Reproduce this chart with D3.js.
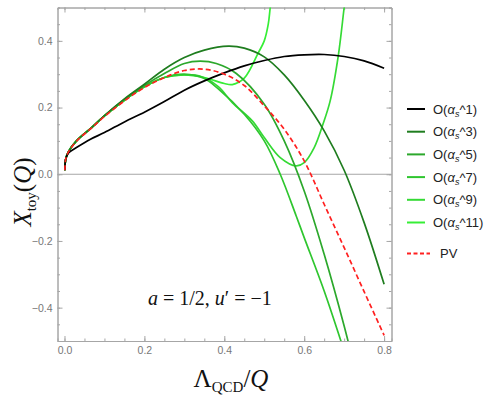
<!DOCTYPE html>
<html>
<head>
<meta charset="utf-8">
<script src="https://cdn.jsdelivr.net/npm/d3@7"></script>
<style>
  body { margin: 0; background: #fff; }
  svg { display: block; }
</style>
</head>
<body>
<div id="chart"></div>
<script>
// series values (x = Lambda_QCD/Q)
var o1X = [0.001, 0.003, 0.01, 0.03, 0.065, 0.1, 0.15, 0.2, 0.25, 0.3, 0.35, 0.4, 0.45, 0.5, 0.55, 0.6, 0.65, 0.7, 0.75, 0.8];
var o1Y = [0.012, 0.045, 0.064, 0.08, 0.105, 0.125, 0.157, 0.186, 0.218, 0.252, 0.28, 0.304, 0.325, 0.341, 0.353, 0.358, 0.359, 0.353, 0.34, 0.318];

var o3X = [0.001, 0.003, 0.01, 0.03, 0.065, 0.1, 0.15, 0.2, 0.25, 0.3, 0.35, 0.41, 0.45, 0.5, 0.55, 0.6, 0.65, 0.7, 0.75, 0.8];
var o3Y = [0.012, 0.045, 0.068, 0.1, 0.137, 0.176, 0.226, 0.27, 0.315, 0.35, 0.372, 0.384, 0.378, 0.352, 0.298, 0.222, 0.13, 0.012, -0.145, -0.33];

var o5X = [0.001, 0.003, 0.01, 0.03, 0.065, 0.1, 0.15, 0.2, 0.25, 0.3, 0.34, 0.38, 0.43, 0.5, 0.55, 0.6, 0.65, 0.7, 0.72];
var o5Y = [0.012, 0.045, 0.068, 0.1, 0.137, 0.175, 0.224, 0.266, 0.302, 0.332, 0.339, 0.332, 0.302, 0.21, 0.1, -0.05, -0.24, -0.455, -0.55];

var o7X = [0.001, 0.003, 0.01, 0.03, 0.065, 0.1, 0.15, 0.2, 0.25, 0.3, 0.35, 0.385, 0.45, 0.5, 0.54, 0.58, 0.6, 0.65, 0.7];
var o7Y = [0.012, 0.045, 0.068, 0.1, 0.137, 0.175, 0.222, 0.262, 0.29, 0.3, 0.287, 0.256, 0.18, 0.1, 0.0, -0.125, -0.19, -0.35, -0.53];

var o9X = [0.001, 0.003, 0.01, 0.03, 0.065, 0.1, 0.15, 0.2, 0.25, 0.3, 0.34, 0.385, 0.42, 0.47, 0.5, 0.54, 0.58, 0.6, 0.625, 0.6475, 0.665, 0.685, 0.7, 0.71];
var o9Y = [0.012, 0.045, 0.068, 0.1, 0.137, 0.175, 0.222, 0.262, 0.29, 0.298, 0.294, 0.263, 0.215, 0.16, 0.11, 0.05, 0.025, 0.035, 0.08, 0.152, 0.22, 0.353, 0.5, 0.6];

var o11X = [0.001, 0.003, 0.01, 0.03, 0.065, 0.1, 0.15, 0.2, 0.25, 0.3, 0.35, 0.4, 0.42, 0.45, 0.485, 0.5, 0.51, 0.515, 0.522];
var o11Y = [0.012, 0.045, 0.068, 0.1, 0.137, 0.175, 0.222, 0.262, 0.29, 0.298, 0.29, 0.272, 0.269, 0.288, 0.364, 0.4, 0.45, 0.5, 0.56];

var pvX = [0.001, 0.003, 0.01, 0.03, 0.065, 0.1, 0.15, 0.2, 0.25, 0.3, 0.35, 0.4, 0.45, 0.5, 0.55, 0.6, 0.65, 0.7, 0.75, 0.8];
var pvY = [0.012, 0.045, 0.067, 0.099, 0.136, 0.173, 0.22, 0.26, 0.29, 0.311, 0.315, 0.3, 0.266, 0.205, 0.135, 0.04, -0.09, -0.22, -0.352, -0.483];

var seriesOrders = ["1", "3", "5", "7", "9", "11"];
var seriesColors = ["#000000", "#1f7d1f", "#2ca82c", "#2fc62f", "#35da35", "#36ee36"];
var xTickLabels = [0, 0.2, 0.4, 0.6, 0.8];
var yTickLabels = [-0.4, -0.2, 0, 0.2, 0.4];

var svgWidth = 491, svgHeight = 395;
var plot = {left: 57.5, right: 391.5, top: 7.5, bottom: 341};

var svg = d3.select("#chart").append("svg")
  .attr("width", svgWidth)
  .attr("height", svgHeight)
  .style("font-family", "'Liberation Sans', Arial, sans-serif");

var x = d3.scaleLinear().domain([-0.0175, 0.8185]).range([plot.left, plot.right]);
var y = d3.scaleLinear().domain([-0.5, 0.5]).range([plot.bottom, plot.top]);

var minorX = d3.range(0, 0.8001, 0.05);
var minorY = d3.range(-0.5, 0.5001, 0.05);

// frame axes, ticks pointing inwards like Mathematica
function styleAxis(g) {
  g.select(".domain").attr("stroke", "#a6a6a6");
  g.selectAll(".tick line").attr("stroke", "#a6a6a6");
  g.selectAll(".tick text").attr("fill", "#777").style("font-size", "10.5px");
}
var fmt = d3.format(".1f");
svg.append("g").attr("transform", "translate(0," + plot.bottom + ")")
  .call(d3.axisBottom(x).tickValues(minorX).tickSize(-2.5).tickFormat("")).call(styleAxis);
svg.append("g").attr("transform", "translate(0," + plot.bottom + ")")
  .call(d3.axisBottom(x).tickValues(xTickLabels).tickSize(-5).tickPadding(6).tickSizeOuter(0).tickFormat(fmt)).call(styleAxis);
svg.append("g").attr("transform", "translate(0," + plot.top + ")")
  .call(d3.axisTop(x).tickValues(minorX).tickSize(-2.5).tickFormat("")).call(styleAxis);
svg.append("g").attr("transform", "translate(0," + plot.top + ")")
  .call(d3.axisTop(x).tickValues(xTickLabels).tickSize(-5).tickSizeOuter(0).tickFormat("")).call(styleAxis);
svg.append("g").attr("transform", "translate(" + plot.left + ",0)")
  .call(d3.axisLeft(y).tickValues(minorY).tickSize(-2.5).tickFormat("")).call(styleAxis);
svg.append("g").attr("transform", "translate(" + plot.left + ",0)")
  .call(d3.axisLeft(y).tickValues(yTickLabels).tickSize(-5).tickPadding(5).tickSizeOuter(0).tickFormat(fmt)).call(styleAxis);
svg.append("g").attr("transform", "translate(" + plot.right + ",0)")
  .call(d3.axisRight(y).tickValues(minorY).tickSize(-2.5).tickFormat("")).call(styleAxis);
svg.append("g").attr("transform", "translate(" + plot.right + ",0)")
  .call(d3.axisRight(y).tickValues(yTickLabels).tickSize(-5).tickSizeOuter(0).tickFormat("")).call(styleAxis);

// zero line
svg.append("line")
  .attr("x1", plot.left).attr("x2", plot.right)
  .attr("y1", y(0)).attr("y2", y(0))
  .attr("stroke", "#a6a6a6").attr("stroke-width", 1);

svg.append("clipPath").attr("id", "clip")
  .append("rect")
  .attr("x", plot.left).attr("y", plot.top)
  .attr("width", plot.right - plot.left).attr("height", plot.bottom - plot.top);

var line = d3.line()
  .x(d => x(d[0]))
  .y(d => y(d[1]))
  .curve(d3.curveCatmullRom.alpha(0.5));

var curves = [[o1X, o1Y], [o3X, o3Y], [o5X, o5Y], [o7X, o7Y], [o9X, o9Y], [o11X, o11Y]];
var curvesGroup = svg.append("g").attr("clip-path", "url(#clip)");

// draw from highest order down so lower orders sit on top
for (var i = curves.length - 1; i >= 0; i--) {
  var pts = d3.zip(curves[i][0], curves[i][1]);
  curvesGroup.append("path")
    .datum(pts)
    .attr("d", line)
    .attr("fill", "none")
    .attr("stroke", seriesColors[i])
    .attr("stroke-width", 1.7);
}
curvesGroup.append("path")
  .datum(d3.zip(pvX, pvY))
  .attr("d", line)
  .attr("fill", "none")
  .attr("stroke", "#ff2020")
  .attr("stroke-width", 1.7)
  .attr("stroke-dasharray", "5,3");

// legend
var legend = svg.append("g");
seriesOrders.forEach(function(ord, i) {
  var ly = 109 + i * 22.7;
  legend.append("line")
    .attr("x1", 407).attr("x2", 425).attr("y1", ly).attr("y2", ly)
    .attr("stroke", seriesColors[i]).attr("stroke-width", 2);
  var t = legend.append("text").attr("x", 433).attr("y", ly + 4.5)
    .attr("fill", "#222").style("font-size", "13px");
  t.append("tspan").text("O(");
  t.append("tspan").style("font-style", "italic").text("α");
  t.append("tspan").style("font-style", "italic").style("font-size", "9px").attr("dy", 3).text("s");
  t.append("tspan").attr("dy", -3).text("^" + ord + ")");
});
legend.append("line")
  .attr("x1", 407).attr("x2", 430).attr("y1", 253.5).attr("y2", 253.5)
  .attr("stroke", "#ff2020").attr("stroke-width", 2).attr("stroke-dasharray", "4,2.5");
legend.append("text").attr("x", 440).attr("y", 258)
  .attr("fill", "#222").style("font-size", "13px").text("PV");

// annotation
var ann = svg.append("text").attr("x", 148).attr("y", 305)
  .style("font-family", "'Liberation Serif', 'Times New Roman', serif")
  .style("font-size", "20px").attr("fill", "#111");
ann.append("tspan").style("font-style", "italic").text("a");
ann.append("tspan").text(" = 1/2, ");
ann.append("tspan").style("font-style", "italic").text("u");
ann.append("tspan").text("′ = −1");

// axis titles
var xt = svg.append("text").attr("x", 231).attr("y", 387).attr("text-anchor", "middle")
  .style("font-family", "'Liberation Serif', 'Times New Roman', serif")
  .style("font-size", "25px").attr("fill", "#111");
xt.append("tspan").text("Λ");
xt.append("tspan").style("font-size", "15px").attr("dy", 5).text("QCD");
xt.append("tspan").attr("dy", -5).text("/");
xt.append("tspan").style("font-style", "italic").text("Q");

var yt = svg.append("text")
  .attr("transform", "translate(31,192) rotate(-90)")
  .attr("text-anchor", "middle")
  .style("font-family", "'Liberation Serif', 'Times New Roman', serif")
  .style("font-size", "25px").attr("fill", "#111");
yt.append("tspan").style("font-style", "italic").text("X");
yt.append("tspan").style("font-size", "15px").attr("dy", 5).text("toy");
yt.append("tspan").attr("dy", -5).text("(");
yt.append("tspan").style("font-style", "italic").text("Q");
yt.append("tspan").text(")");
</script>
</body>
</html>
